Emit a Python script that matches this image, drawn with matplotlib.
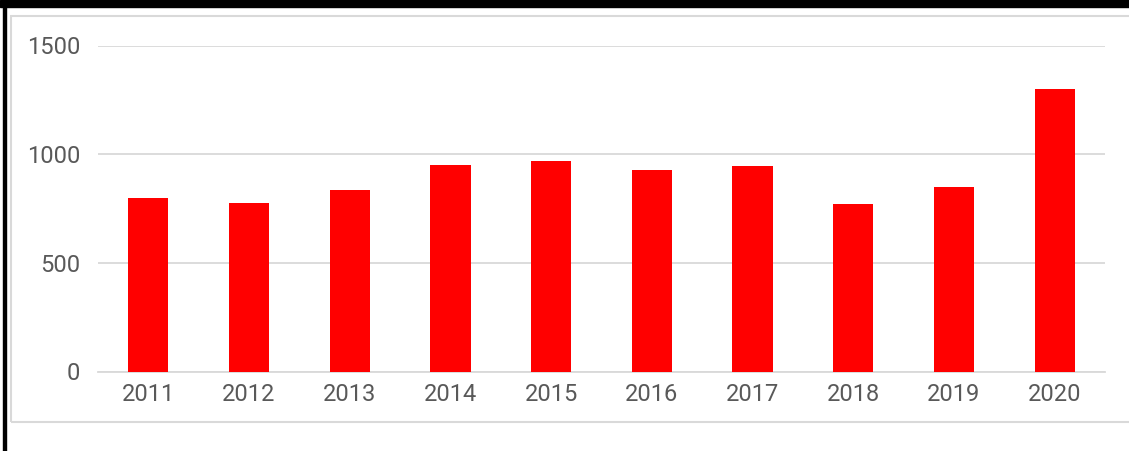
import matplotlib
matplotlib.use("Agg")
import matplotlib.pyplot as plt
from matplotlib.patches import Rectangle

years = ["2011", "2012", "2013", "2014", "2015", "2016", "2017", "2018", "2019", "2020"]
values = [800, 775, 835, 950, 970, 925, 945, 770, 850, 1300]
yticks = [0, 500, 1000, 1500]

W, H = 1129, 451
plt.rcParams['font.family'] = ['Roboto', 'DejaVu Sans']

fig = plt.figure(figsize=(W / 100, H / 100), dpi=100)

# frame decorations (screenshot border + chart box)
fig.patches.append(Rectangle((0, 1 - 7 / H), 1, 7 / H, transform=fig.transFigure,
                             color='black', zorder=0))
fig.patches.append(Rectangle((3 / W, 0), 3 / W, 1, transform=fig.transFigure,
                             color='black', zorder=0))
fig.patches.append(Rectangle((11 / W, (H - 422) / H), 1.2, (422 - 16) / H,
                             transform=fig.transFigure, fill=False,
                             edgecolor='#d9d9d9', linewidth=1.5, zorder=0))

ax = fig.add_axes([98 / W, (H - 371.5) / H, (1105 - 98) / W, 326 / H])
x = range(len(years))
ax.bar(x, values, width=0.4, color='#ff0000', zorder=3)

ax.set_xlim(-0.5, len(years) - 0.5)
ax.set_ylim(0, 1500)
ax.set_xticks(list(x))
ax.set_xticklabels(years)
ax.set_yticks(yticks)
ax.yaxis.grid(True, color='#d9d9d9', linewidth=1.3, zorder=0)
ax.set_axisbelow(True)

for s in ['top', 'right', 'left']:
    ax.spines[s].set_visible(False)
ax.spines['bottom'].set_color('#d9d9d9')
ax.spines['bottom'].set_linewidth(1.3)
ax.tick_params(axis='both', length=0, labelsize=17, labelcolor='#595959')
ax.tick_params(axis='y', pad=13)
ax.tick_params(axis='x', pad=8)

fig.savefig("out.png", dpi=100)
